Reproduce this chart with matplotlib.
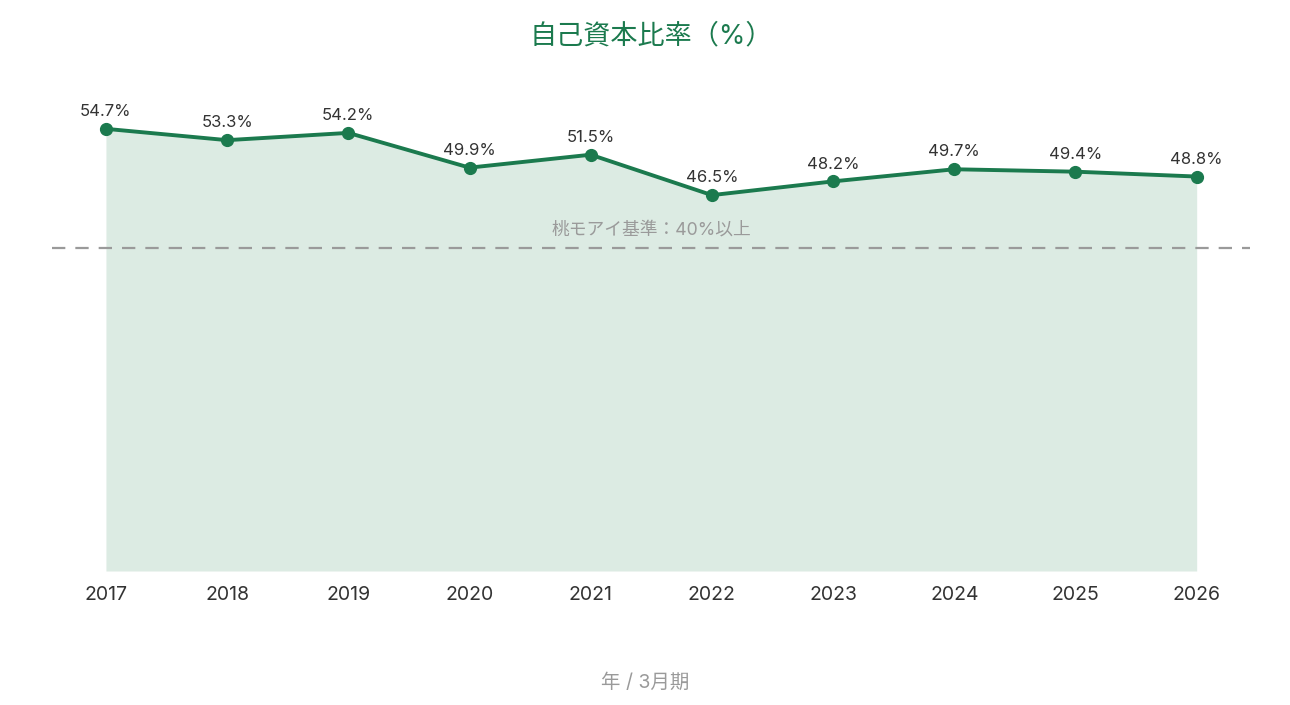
import matplotlib
matplotlib.use("Agg")
import matplotlib.pyplot as plt

plt.rcParams['font.family'] = ['Inter', 'Noto Sans CJK JP', 'DejaVu Sans']

years = [2017, 2018, 2019, 2020, 2021, 2022, 2023, 2024, 2025, 2026]
ratios = [54.7, 53.3, 54.2, 49.9, 51.5, 46.5, 48.2, 49.7, 49.4, 48.8]
threshold = 40
title = "自己資本比率（%）"
threshold_label = "桃モアイ基準：40%以上"
xlabel = "年 / 3月期"

green = "#1b7a4e"
fill = "#dcebe3"
gray = "#9a9a9a"

fig = plt.figure(figsize=(12.9, 7.05), dpi=100)
ax = fig.add_axes([52/1290, (705-571)/705, (1250-52)/1290, (571-86)/705])

ax.fill_between(years, ratios, 0, color=fill, linewidth=0, zorder=1)
ax.axhline(threshold, color=gray, linewidth=1.6, dashes=(6, 4.5), zorder=2)
ax.plot(years, ratios, color=green, linewidth=2.8, marker='o', markersize=8.5, zorder=3)

for x, y in zip(years, ratios):
    ax.annotate(f"{y}%", (x, y), xytext=(0, 12.5), textcoords='offset points',
                ha='center', va='center', fontsize=12, color='#333333')

ax.text((years[0] + years[-1]) / 2, threshold + 1.1, threshold_label, ha='center', va='bottom',
        fontsize=12.8, color=gray)

ax.set_xlim(2016.555, 2026.44)
ax.set_ylim(0, 60)
ax.set_xticks(years)
ax.set_xticklabels([str(y) for y in years], fontsize=14, color='#333333')
ax.tick_params(axis='x', length=0, pad=10.5)
ax.set_yticks([])
for s in ax.spines.values():
    s.set_visible(False)

fig.text(651/1290, 1 - 36/705, title, ha='center', va='center', fontsize=19.5, color=green)
fig.text(645/1290, 1 - 683/705, xlabel, ha='center', va='center', fontsize=14, color=gray)

fig.savefig("out.png", dpi=100)
